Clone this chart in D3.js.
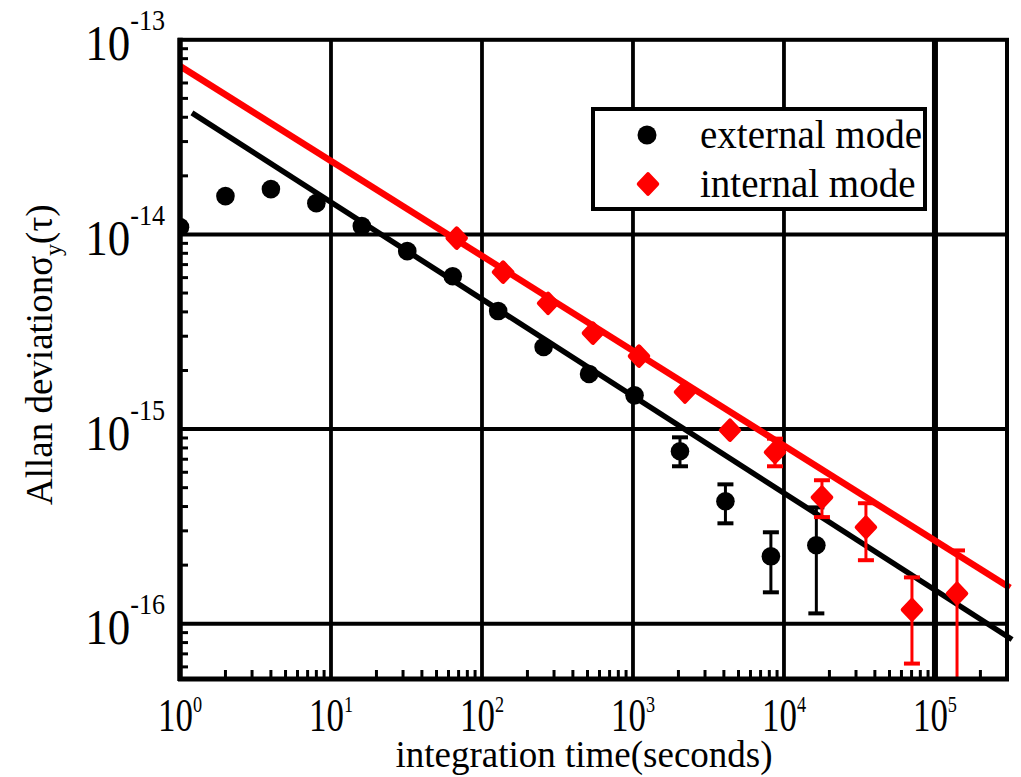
<!DOCTYPE html>
<html><head><meta charset="utf-8">
<script src="https://cdn.jsdelivr.net/npm/d3@7"></script>
<style>body{margin:0;background:#fff} svg{display:block}</style>
</head><body><svg id="c" width="1021" height="777"></svg>
<script>
// ---- data ----
const externalTau   = [1, 2, 4, 8, 16, 32, 64, 128, 256, 512, 1024, 2048, 4096, 8192, 16384];
const externalSigma = [1.09e-14, 1.574e-14, 1.71e-14, 1.448e-14, 1.104e-14, 8.21e-15, 6.10e-15, 4.04e-15, 2.64e-15, 1.92e-15, 1.49e-15, 7.69e-16, 4.26e-16, 2.22e-16, 2.53e-16];
const externalErrHi = [null, null, null, null, null, null, null, null, null, null, null, 9.07e-16, 5.20e-16, 2.95e-16, 3.96e-16];
const externalErrLo = [null, null, null, null, null, null, null, null, null, null, null, 6.44e-16, 3.28e-16, 1.45e-16, 1.13e-16];

const internalTau   = [68, 138, 274, 543, 1096, 2210, 4390, 8720, 17850, 34900, 70400, 140000];
const internalSigma = [9.57e-15, 6.40e-15, 4.43e-15, 3.11e-15, 2.37e-15, 1.55e-15, 9.87e-16, 7.60e-16, 4.46e-16, 3.13e-16, 1.18e-16, 1.43e-16];
const internalErrHi = [null, null, null, null, null, null, null, 8.93e-16, 5.46e-16, 4.16e-16, 1.73e-16, 2.38e-16];
const internalErrLo = [null, null, null, null, null, null, null, 6.44e-16, 3.53e-16, 2.12e-16, 6.24e-17, 3.0e-17];

const externalFitTau = [1.2, 3.24e5];
const externalFitSigma = [4.21e-14, 8.30e-17];
const internalFitTau = [1, 3.14e5];
const internalFitSigma = [7.33e-14, 1.53e-16];

const xTickExponents = [0, 1, 2, 3, 4, 5];
const yTickExponents = [-13, -14, -15, -16];
const legendLabels = ["external mode", "internal mode"];
const xTitle = "integration time(seconds)";

// ---- drawing ----
const svg = d3.select("#c");
const FONT = "'Liberation Serif','Times New Roman',serif";
const L = 180, R = 1007, T = 39.8, B = 679;
const x = d3.scaleLog().domain([1, 3e5]).range([L, R]);
const y = d3.scaleLog().domain([5.2e-17, 1e-13]).range([B, T]);

const defs = svg.append("defs");
defs.append("clipPath").attr("id", "plot").append("rect")
  .attr("x", L).attr("y", T).attr("width", R - L).attr("height", B - T);
defs.append("clipPath").attr("id", "plotLines").append("rect")
  .attr("x", L).attr("y", T).attr("width", R - L + 7).attr("height", B - T);

// gridlines at decades
const xDecades = xTickExponents.map(e => Math.pow(10, e)).filter(v => v > 1);
svg.append("g").selectAll("line").data(xDecades).join("line")
  .attr("x1", d => x(d)).attr("x2", d => x(d)).attr("y1", T).attr("y2", B)
  .attr("stroke", "#000").attr("stroke-width", d => d === 1e5 ? 6 : 3.8);
const yDecades = yTickExponents.map(e => Math.pow(10, e)).filter(v => v < 1e-13);
svg.append("g").selectAll("line").data(yDecades).join("line")
  .attr("y1", d => y(d)).attr("y2", d => y(d)).attr("x1", L).attr("x2", R)
  .attr("stroke", "#000").attr("stroke-width", 4);

// minor ticks (inside, left and bottom)
const isDecade = v => Math.abs(Math.log10(v) - Math.round(Math.log10(v))) < 1e-9;
const xMinor = x.ticks(60).filter(v => !isDecade(v) && v <= 3e5);
const yMinor = y.ticks(60).filter(v => !isDecade(v));
svg.append("g").selectAll("line").data(xMinor).join("line")
  .attr("x1", d => x(d)).attr("x2", d => x(d)).attr("y1", B).attr("y2", B - 9)
  .attr("stroke", "#000").attr("stroke-width", 3);
svg.append("g").selectAll("line").data(yMinor).join("line")
  .attr("y1", d => y(d)).attr("y2", d => y(d)).attr("x1", L).attr("x2", L + 8)
  .attr("stroke", "#000").attr("stroke-width", 3);

// fit lines
const line = d3.line().x(d => x(d[0])).y(d => y(d[1]));
const gl = svg.append("g").attr("clip-path", "url(#plotLines)");
gl.append("path").datum(externalFitTau.map((t, i) => [t, externalFitSigma[i]]))
  .attr("d", line).attr("fill", "none").attr("stroke", "#000").attr("stroke-width", 5.5);
gl.append("path").datum(internalFitTau.map((t, i) => [t, internalFitSigma[i]]))
  .attr("d", line).attr("fill", "none").attr("stroke", "#ff0000").attr("stroke-width", 6.5);

// error bars and points
const gp = svg.append("g").attr("clip-path", "url(#plot)");
function errBars(taus, hi, lo, color) {
  const d = taus.map((t, i) => ({t, hi: hi[i], lo: lo[i]})).filter(e => e.hi != null);
  const g = gp.append("g").attr("stroke", color).attr("stroke-width", 3);
  g.selectAll(".v").data(d).join("line")
    .attr("x1", e => x(e.t)).attr("x2", e => x(e.t)).attr("y1", e => y(e.hi)).attr("y2", e => y(e.lo));
  g.selectAll(".h").data(d).join("line")
    .attr("x1", e => x(e.t) - 8).attr("x2", e => x(e.t) + 8).attr("y1", e => y(e.hi)).attr("y2", e => y(e.hi)).attr("stroke-width", 4);
  g.selectAll(".l").data(d).join("line")
    .attr("x1", e => x(e.t) - 8).attr("x2", e => x(e.t) + 8).attr("y1", e => y(e.lo)).attr("y2", e => y(e.lo)).attr("stroke-width", 4);
}
errBars(externalTau, externalErrHi, externalErrLo, "#000");
errBars(internalTau, internalErrHi, internalErrLo, "#ff0000");

const diamond = (cx, cy) => `M${cx},${cy-9.5}L${cx+9},${cy}L${cx},${cy+9.5}L${cx-9},${cy}Z`;
gp.append("g").selectAll("circle").data(externalTau.map((t, i) => [t, externalSigma[i]])).join("circle")
  .attr("cx", d => x(d[0])).attr("cy", d => y(d[1])).attr("r", 9.3).attr("fill", "#000");
gp.append("g").selectAll("path").data(internalTau.map((t, i) => [t, internalSigma[i]])).join("path")
  .attr("d", d => diamond(x(d[0]), y(d[1])))
  .attr("fill", "#ff0000").attr("stroke", "#ff0000").attr("stroke-width", 4.5).attr("stroke-linejoin", "round");

// frame
svg.append("rect").attr("x", L).attr("y", T).attr("width", R - L).attr("height", B - T)
  .attr("fill", "none").attr("stroke", "#000").attr("stroke-width", 4);
svg.append("line").attr("x1", L).attr("x2", L).attr("y1", T - 2).attr("y2", B + 2)
  .attr("stroke", "#000").attr("stroke-width", 5.5);
svg.append("line").attr("x1", L - 2).attr("x2", R + 2).attr("y1", B).attr("y2", B)
  .attr("stroke", "#000").attr("stroke-width", 5);

// tick labels
const gx = svg.append("g").attr("font-family", FONT).attr("fill", "#000");
xTickExponents.forEach(e => {
  const t = gx.append("g").attr("transform", `translate(${x(Math.pow(10, e))},731) scale(0.76,1)`)
    .append("text").attr("text-anchor", "middle");
  t.append("tspan").attr("font-size", 46).text("10");
  t.append("tspan").attr("font-size", 24).attr("dy", -19).text(String(e));
});
const gy = svg.append("g").attr("font-family", FONT).attr("fill", "#000");
yTickExponents.forEach(e => {
  const t = gy.append("g").attr("transform", `translate(165,${y(Math.pow(10, e)) + 20.5}) scale(0.9,1)`)
    .append("text").attr("text-anchor", "end");
  t.append("tspan").attr("font-size", 50).text("10");
  t.append("tspan").attr("font-size", 29).attr("dy", -30).text(String(e));
});

// axis titles
svg.append("text").attr("x", 584).attr("y", 767).attr("text-anchor", "middle")
  .attr("font-family", FONT).attr("font-size", 37).text(xTitle);
const yt = svg.append("text").attr("transform", "translate(52,505) rotate(-90)")
  .attr("font-family", FONT).attr("font-size", 37);
yt.append("tspan").text("Allan deviationσ");
yt.append("tspan").attr("font-size", 24).attr("dy", 9).text("y");
yt.append("tspan").attr("dy", -9).text("(τ)");

// legend
svg.append("rect").attr("x", 593).attr("y", 109).attr("width", 332).attr("height", 100)
  .attr("fill", "#fff").attr("stroke", "#000").attr("stroke-width", 4);
svg.append("circle").attr("cx", 647).attr("cy", 135).attr("r", 9.5).attr("fill", "#000");
svg.append("path").attr("d", diamond(648, 184)).attr("fill", "#ff0000").attr("stroke", "#ff0000")
  .attr("stroke-width", 4.5).attr("stroke-linejoin", "round");
legendLabels.forEach((lab, i) => {
  svg.append("text").attr("x", 700).attr("y", 147.5 + i * 49).attr("font-family", FONT)
    .attr("font-size", 39).text(lab);
});
</script></body></html>
